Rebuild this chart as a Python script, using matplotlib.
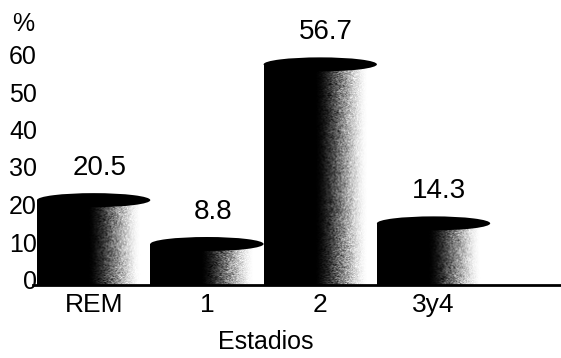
import numpy as np
import matplotlib
matplotlib.use("Agg")
import matplotlib.pyplot as plt
from matplotlib.patches import Ellipse
from matplotlib.transforms import ScaledTranslation, blended_transform_factory

# ---- data ----
categories = ["REM", "1", "2", "3y4"]
values = [20.5, 8.8, 56.7, 14.3]
value_labels = ["20.5", "8.8", "56.7", "14.3"]
yticks = [0, 10, 20, 30, 40, 50, 60]
ylabel_text = "%"
xlabel_text = "Estadios"

plt.rcParams['font.family'] = ['Liberation Sans', 'DejaVu Sans']

W, H = 561, 358
fig = plt.figure(figsize=(W / 100, H / 100), dpi=100)
px_unit_x = 113.3
px_unit_y = 3.75
ax_left_px, ax_bottom_px = 33, 73
ax_w_px, ax_h_px = W - ax_left_px, 285
ax = fig.add_axes([ax_left_px / W, ax_bottom_px / H, ax_w_px / W, ax_h_px / H])
x0 = -0.5 - 4 / px_unit_x
ax.set_xlim(x0, x0 + ax_w_px / px_unit_x)
ax.set_ylim(0, ax_h_px / px_unit_y)

for s in ["top", "right", "left"]:
    ax.spines[s].set_visible(False)
ax.spines["bottom"].set_linewidth(2.0)
ax.spines["bottom"].set_zorder(5)

# gradient texture (style only)
rng = np.random.default_rng(3)
bar_w = 1.0
top_lift_px = 8  # 3D top drawn slightly above the value

def grad_image(nrows, ncols):
    t = (np.arange(ncols) + 0.5) / ncols
    g = np.clip((t - 0.44) / (0.92 - 0.44), 0, 1)
    g = g * g * (3 - 2 * g)
    img = np.tile(g, (nrows, 1))
    amp = 0.22 * np.sin(np.pi * g)
    img = img + amp * rng.normal(0, 0.6, size=img.shape)
    return np.clip(img, 0, 1)

up = ScaledTranslation(0, top_lift_px / 100, fig.dpi_scale_trans)
for i, v in enumerate(values):
    left = i - bar_w / 2
    top = v + top_lift_px / px_unit_y
    nrows = max(2, int(top * px_unit_y))
    ncols = 113
    ax.imshow(grad_image(nrows, ncols), cmap="gray", vmin=0, vmax=1,
              extent=[left, left + bar_w, 0, top], aspect="auto",
              interpolation="bilinear", zorder=2)
    e = Ellipse((i, v), width=bar_w, height=14 / px_unit_y,
                facecolor="black", edgecolor="none", zorder=3,
                transform=ax.transData + up)
    ax.add_patch(e)
    ax.text(i + 0.05, v, value_labels[i], ha="center", va="center",
            fontsize=20, zorder=4,
            transform=ax.transData + ScaledTranslation(0, 40 / 100, fig.dpi_scale_trans))

ax.set_xlim(x0, x0 + ax_w_px / px_unit_x)
ax.set_ylim(0, ax_h_px / px_unit_y)

# x ticks
ax.set_xticks(range(len(categories)))
ax.set_xticklabels(categories, fontsize=19)
ax.tick_params(axis="x", length=0, pad=6)
ax.set_yticks([])

# y tick labels
ytr = blended_transform_factory(ax.transData, ax.transData) + \
    ScaledTranslation(0, 3 / 100, fig.dpi_scale_trans)
for t in yticks:
    ax.text(-0.5, t, str(t), ha="right", va="center", fontsize=18,
            transform=ytr, zorder=1, clip_on=False)

fig.text(34 / W, 1 - 24 / H, ylabel_text, ha="right", va="center", fontsize=18)
ax.set_xlabel(xlabel_text, fontsize=18)
ax.xaxis.set_label_coords((266 - ax_left_px) / ax_w_px, -(342 - 285) / ax_h_px)
ax.xaxis.label.set_va("center")

fig.savefig("out.png", dpi=100)
